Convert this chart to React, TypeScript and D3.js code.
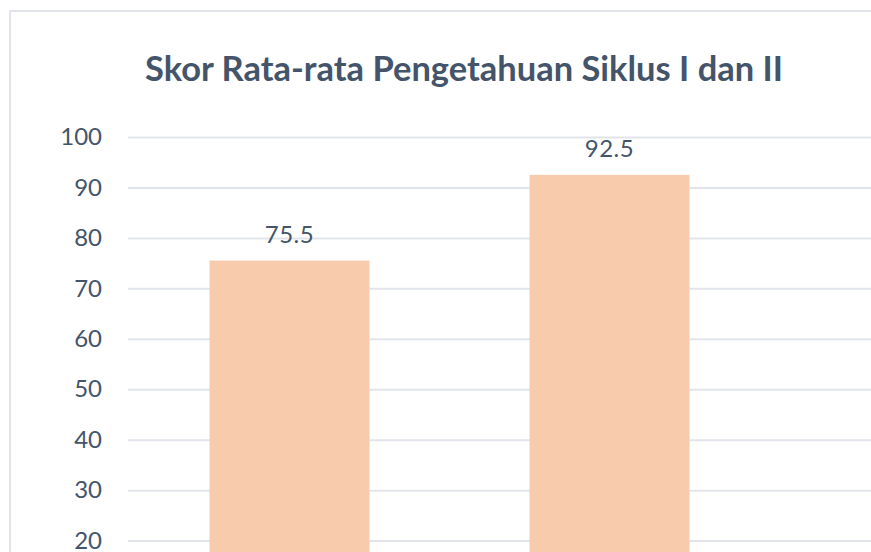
import React, { useEffect, useRef } from 'react';
import * as d3 from 'd3';

// chart values
const categories = ['Siklus I', 'Siklus II'];
const scores = [75.5, 92.5];
const yTicks = [20, 30, 40, 50, 60, 70, 80, 90, 100];
const title = 'Skor Rata-rata Pengetahuan Siklus I dan II';

const W = 871;
const H = 552;
const textColor = '#44546a';
const gridColor = '#e1e5eb';
const barColor = '#f8cbad';

const App = () => {
  const svgRef = useRef<SVGSVGElement>(null);

  useEffect(() => {
    const svg = d3.select(svgRef.current);
    svg.selectAll('*').remove();

    const x = d3.scaleBand<string>()
      .domain(categories)
      .range([129.5, 769.5])
      .paddingInner(0.5)
      .paddingOuter(0.25);

    const y = d3.scaleLinear().domain([0, 100]).range([641.5, 137]);

    svg.append('rect').attr('width', W).attr('height', H).attr('fill', '#fff');

    // chart frame (cropped on the right and bottom)
    svg.append('path')
      .attr('d', `M10,${H} L10,11 L${W},11`)
      .attr('fill', 'none')
      .attr('stroke', gridColor)
      .attr('stroke-width', 2);

    // title
    svg.append('text')
      .attr('x', 464)
      .attr('y', 81)
      .attr('text-anchor', 'middle')
      .attr('font-family', 'Lato, sans-serif')
      .attr('font-weight', 'bold')
      .attr('font-size', 34)
      .attr('fill', textColor)
      .attr('textLength', 638)
      .attr('lengthAdjust', 'spacingAndGlyphs')
      .text(title);

    // gridlines
    const yAxisGrid = d3.axisLeft(y).tickValues(yTicks).tickSize(-(W - 128)).tickFormat(() => '');
    const grid = svg.append('g').attr('transform', 'translate(128,0)').call(yAxisGrid);
    grid.select('.domain').remove();
    grid.selectAll('line').attr('stroke', gridColor).attr('stroke-width', 2);

    // y axis labels (the bottom one is cut by the crop, as in the source)
    const yAxis = d3.axisLeft(y).tickValues(yTicks).tickSize(0).tickPadding(0);
    const axis = svg.append('g').attr('transform', 'translate(102,0)').call(yAxis);
    axis.select('.domain').remove();
    axis.selectAll('text')
      .attr('font-family', 'Lato, sans-serif')
      .attr('font-size', 24)
      .attr('fill', textColor);

    // bars
    svg.append('g')
      .selectAll('rect')
      .data(scores)
      .join('rect')
      .attr('x', (d, i) => x(categories[i]) as number)
      .attr('y', (d) => y(d))
      .attr('width', x.bandwidth())
      .attr('height', (d) => y(0) - y(d))
      .attr('fill', barColor);

    // value labels
    svg.append('g')
      .selectAll('text')
      .data(scores)
      .join('text')
      .attr('x', (d, i) => (x(categories[i]) as number) + x.bandwidth() / 2)
      .attr('y', (d) => y(d) - 18)
      .attr('text-anchor', 'middle')
      .attr('font-family', 'Lato, sans-serif')
      .attr('font-size', 24)
      .attr('letter-spacing', 0.5)
      .attr('fill', textColor)
      .text((d) => d.toString());
  }, []);

  return (
    <div style={{ position: 'absolute', left: 0, top: 0 }}>
      <svg ref={svgRef} width={W} height={H} style={{ display: 'block' }}></svg>
    </div>
  );
};

export default App;
